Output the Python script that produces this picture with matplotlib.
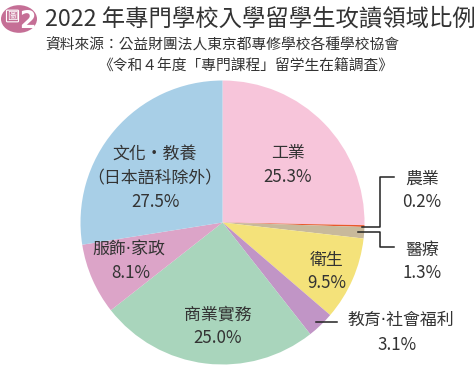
import numpy as np
import matplotlib
matplotlib.use("Agg")
import matplotlib.pyplot as plt
from matplotlib.patches import Circle
from matplotlib.lines import Line2D

plt.rcParams['font.family'] = ['Noto Sans CJK TC', 'DejaVu Sans']

fields = ['工業', '農業', '醫療', '衛生', '教育·社會福利', '商業實務', '服飾·家政', '文化・教養']
shares = [25.3, 0.2, 1.3, 9.5, 3.1, 25.0, 8.1, 27.5]
colors = ['#f7c5da', '#e9582c', '#c8b99b', '#f4e27a', '#c195c6', '#a9d5bc', '#dca4c8', '#a8cfe7']

W, H = 475, 365
fig = plt.figure(figsize=(W / 100, H / 100), dpi=100)
fig.patch.set_facecolor('white')

def fp(x, y):
    return (x / W, 1 - y / H)

# pie
cx, cy, r = 222.5, 222.5, 142
ax = fig.add_axes([(cx - r) / W, (H - cy - r) / H, 2 * r / W, 2 * r / H])
wedges, _ = ax.pie(shares, colors=colors, startangle=90, counterclock=False,
                   wedgeprops=dict(linewidth=0))
ax.set_xlim(-1, 1)
ax.set_ylim(-1, 1)
ax.set_aspect('equal')
ax.axis('off')

dark = '#333333'

# title area
icon = Circle((19 / W, 1 - 19 / H), 18 / W, transform=fig.transFigure,
              facecolor='#c56f96', edgecolor='none')
fig.patches.append(icon)
fig.text(*fp(12.5, 16), '圖', fontsize=7.5, color='white', ha='center', va='center',
         bbox=dict(boxstyle='round,pad=0.08', fc='none', ec='white', lw=0.8))
fig.text(*fp(27.5, 21), '2', fontsize=17, color='white', ha='center', va='center',
         fontweight='bold', family=['DejaVu Sans'])
fig.text(*fp(45, 19), '2022 年專門學校入學留學生攻讀領域比例', fontsize=16.8,
         color=dark, ha='left', va='center')
fig.text(*fp(45, 45), '資料來源：公益財團法人東京都專修學校各種學校協會', fontsize=10.6,
         color=dark, ha='left', va='center')
fig.text(*fp(393, 67), '《令和４年度「專門課程」留学生在籍調査》', fontsize=10.6,
         color=dark, ha='right', va='center')

def lab(x, y, s, size=12.2, fam=None):
    kw = {}
    if fam:
        kw['family'] = fam
    fig.text(*fp(x, y), s, fontsize=size, color=dark, ha='center', va='center', **kw)

narrow_dot = ['DejaVu Sans', 'Noto Sans CJK TC']
pct = ['%.1f%%' % v for v in shares]

lab(288, 153, fields[0]); lab(288, 177, pct[0])
lab(422, 179, fields[1]); lab(422, 202, pct[1])
lab(422, 250, fields[2]); lab(422, 273, pct[2])
lab(327, 260, fields[3]); lab(327, 283, pct[3])
lab(401, 320, fields[4], fam=narrow_dot); lab(397, 345, pct[4])
lab(218, 315, fields[5]); lab(218, 338, pct[5])
lab(129, 250, fields[6], fam=narrow_dot); lab(131, 273, pct[6])
lab(155, 154, fields[7]); lab(155, 178, '（日本語科除外）'); lab(155, 202, pct[7])

# leader lines from wedge midpoints
def edge_px(i, rad=1.0):
    w = wedges[i]
    ang = np.deg2rad((w.theta1 + w.theta2) / 2)
    p = ax.transData.transform((rad * np.cos(ang), rad * np.sin(ang)))
    return p[0], H - p[1]

def leader(pts):
    xs = [p[0] / W for p in pts]
    ys = [1 - p[1] / H for p in pts]
    fig.lines.append(Line2D(xs, ys, transform=fig.transFigure, color='#222222', lw=1.1))

x0, y0 = edge_px(1, 0.98)
leader([(x0, y0 + 1), (380, y0 + 1), (380, 177), (394, 177)])
x0, y0 = edge_px(2, 0.96)
leader([(x0, y0), (380, y0), (380, 247), (394, 247)])
x0, y0 = edge_px(4, 0.97)
leader([(x0 - 2, 322), (337, 322)])

fig.savefig('out.png', dpi=100, facecolor='white')
